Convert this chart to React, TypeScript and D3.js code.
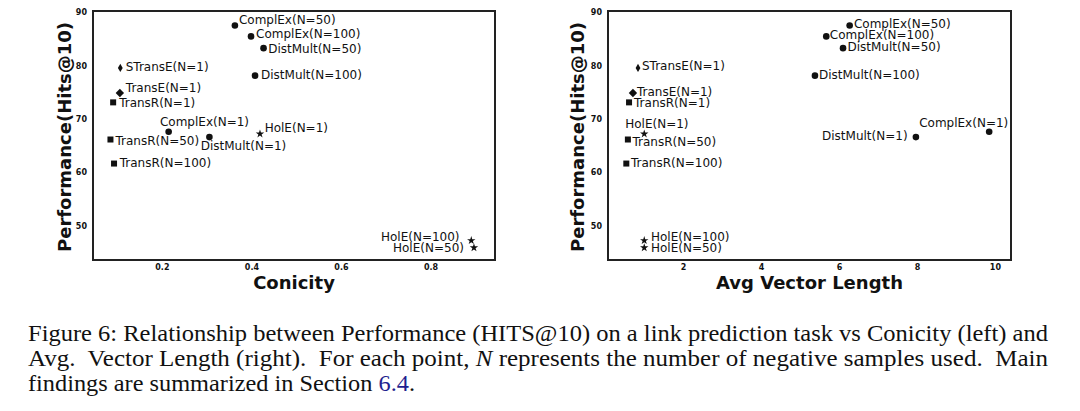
import React from "react";
import * as d3 from "d3";

// ---- data ----
const models = [
  "ComplEx(N=50)", "ComplEx(N=100)", "DistMult(N=50)", "DistMult(N=100)",
  "STransE(N=1)", "TransE(N=1)", "TransR(N=1)", "ComplEx(N=1)",
  "DistMult(N=1)", "HolE(N=1)", "TransR(N=50)", "TransR(N=100)",
  "HolE(N=100)", "HolE(N=50)",
];
const markers = [
  "circle", "circle", "circle", "circle",
  "thindiamond", "diamond", "square", "circle",
  "circle", "star", "square", "square",
  "star", "star",
];
const hits = [87.5, 85.45, 83.25, 78.1, 79.55, 74.85, 73.1, 67.6, 66.6, 67.2, 66.15, 61.65, 47.25, 45.9];
const conicity = [0.362, 0.398, 0.426, 0.407, 0.106, 0.105, 0.09, 0.214, 0.305, 0.418, 0.084, 0.092, 0.89, 0.896];
const avgLength = [6.26, 5.66, 6.09, 5.37, 0.83, 0.70, 0.60, 9.84, 7.96, 0.99, 0.57, 0.53, 0.99, 0.99];

const yTicks = [50, 60, 70, 80, 90];
const conicityTicks = [0.2, 0.4, 0.6, 0.8];
const lengthTicks = [2, 4, 6, 8, 10];

// label placement (style): [dx, dy, anchor]
const leftLabelPos: [number, number, string][] = [
  [4, -1, "start"], [5, 1.6, "start"], [4.6, 5.3, "start"], [6, 3.3, "start"],
  [5.4, 2.7, "start"], [6, -0.6, "start"], [6, 5, "start"], [-8.7, -5.3, "start"],
  [-8.7, 12.7, "start"], [4.7, -1.6, "start"], [5, 5, "start"], [5.7, 3, "start"],
  [-11.7, 1, "end"], [-10, 4, "end"],
];
const rightLabelPos: [number, number, string][] = [
  [4.3, 2.7, "start"], [3.6, 2.7, "start"], [4.4, 2.7, "start"], [4, 3, "start"],
  [4, 2.4, "start"], [4, 3.3, "start"], [5, 4.4, "start"], [-70, -5, "start"],
  [-8.3, 2.7, "end"], [-19, -5.7, "start"], [4.6, 6.3, "start"], [4.7, 3, "start"],
  [6.7, 0.4, "start"], [6.7, 4, "start"],
];

const captionLine1 =
  "Figure 6: Relationship between Performance (HITS@10) on a link prediction task vs Conicity (left) and";

const FONT = "'DejaVu Sans', sans-serif";
const INK = "#111";

function Marker({ type, x, y }: { type: string; x: number; y: number }) {
  if (type === "circle") return <circle cx={x} cy={y} r={3.3} fill={INK} />;
  if (type === "square") return <rect x={x - 3} y={y - 3} width={6} height={6} fill={INK} />;
  if (type === "diamond")
    return <path d={`M${x},${y - 4.2}L${x + 4.2},${y}L${x},${y + 4.2}L${x - 4.2},${y}Z`} fill={INK} />;
  if (type === "thindiamond")
    return <path d={`M${x},${y - 4.2}L${x + 2.4},${y}L${x},${y + 4.2}L${x - 2.4},${y}Z`} fill={INK} />;
  const p = d3.symbol().type(d3.symbolStar).size(22)();
  return <path d={p || ""} transform={`translate(${x},${y})`} fill={INK} />;
}

function Panel({
  left, right, xDomain, xs, xTicks, xTitle, labelPos, yTitleX, tickFmt,
}: {
  left: number; right: number; xDomain: [number, number]; xs: number[]; xTicks: number[];
  xTitle: string; labelPos: [number, number, string][]; yTitleX: number; tickFmt: (v: number) => string;
}) {
  const top = 11, bottom = 260;
  const x = d3.scaleLinear().domain(xDomain).range([left, right]);
  const y = d3.scaleLinear().domain([43.6, 90.2]).range([bottom, top]);
  return (
    <g fontFamily={FONT}>
      {xTicks.map((t) => (
        <text key={t} x={x(t)} y={bottom + 10} fontSize={8} fontWeight="bold" textAnchor="middle" fill={INK}>
          {tickFmt(t)}
        </text>
      ))}
      {yTicks.map((t) => (
        <text key={t} x={left - 6} y={y(t) + 3} fontSize={8} fontWeight="bold" textAnchor="end" fill={INK}>
          {t}
        </text>
      ))}
      {models.map((m, i) => {
        const px = x(xs[i]), py = y(hits[i]);
        const [dx, dy, anchor] = labelPos[i];
        return (
          <g key={m}>
            <Marker type={markers[i]} x={px} y={py} />
            <text x={px + dx} y={py + dy} fontSize={12} textAnchor={anchor} fill={INK}>
              {m}
            </text>
          </g>
        );
      })}
      <rect x={left} y={top} width={right - left} height={bottom - top} fill="none" stroke="#222" strokeWidth={2} />
      <text x={(left + right) / 2} y={289} fontSize={18} fontWeight="bold" textAnchor="middle" fill={INK}>
        {xTitle}
      </text>
      <text
        transform={`translate(${yTitleX},137) rotate(-90)`}
        fontSize={18} fontWeight="bold" textAnchor="middle" fill={INK}
      >
        Performance(Hits@10)
      </text>
    </g>
  );
}

export default function App() {
  return (
    <svg width={1080} height={411} style={{ position: "absolute", left: 0, top: 0, background: "#fff" }}>
      <rect width={1080} height={411} fill="#fff" />
      <Panel
        left={93} right={495} xDomain={[0.045, 0.943]} xs={conicity} xTicks={conicityTicks}
        xTitle="Conicity" labelPos={leftLabelPos} yTitleX={71} tickFmt={(v) => v.toFixed(1)}
      />
      <Panel
        left={608} right={1011} xDomain={[0.06, 10.4]} xs={avgLength} xTicks={lengthTicks}
        xTitle="Avg Vector Length" labelPos={rightLabelPos} yTitleX={584} tickFmt={(v) => String(v)}
      />
      <g fontFamily="'Liberation Serif', 'Times New Roman', serif" fontSize={23} fill={INK}>
        <text x={28} y={341} textLength={1020} lengthAdjust="spacingAndGlyphs">
          {captionLine1}
        </text>
        <text x={28} y={366} textLength={1020} lengthAdjust="spacingAndGlyphs">
          Avg.{"\u00a0"} Vector Length (right).{"\u00a0"} For each point, <tspan fontStyle="italic">N</tspan> represents the number of negative samples used.{"\u00a0"} Main
        </text>
        <text x={28} y={391} textLength={387} lengthAdjust="spacingAndGlyphs">
          findings are summarized in Section <tspan fill="#1f1f8f">6.4</tspan>.
        </text>
      </g>
    </svg>
  );
}
